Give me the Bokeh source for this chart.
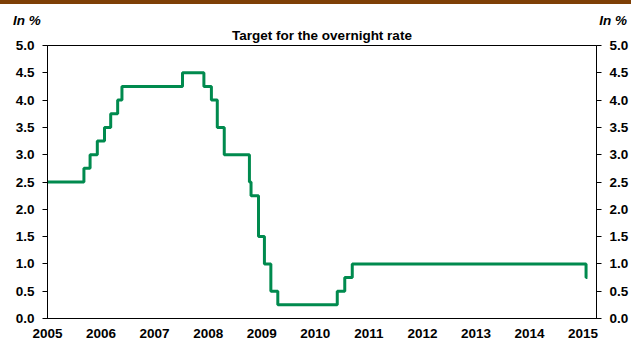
from bokeh.plotting import figure
from bokeh.models import (Range1d, FixedTicker, NumeralTickFormatter, LinearAxis,
                          Div, ColumnDataSource, Title)
from bokeh.layouts import column
from bokeh.embed import file_html
from bokeh.resources import INLINE

# Bank of Canada target for the overnight rate: decision dates (decimal years) and rate (%)
dates = [2005.00, 2005.68, 2005.795, 2005.93, 2006.064, 2006.18, 2006.31, 2006.39,
         2007.52, 2007.92, 2008.06, 2008.17, 2008.30, 2008.77, 2008.80, 2008.94,
         2009.05, 2009.17, 2009.30, 2010.41, 2010.55, 2010.69, 2015.055, 2015.08]
rates = [2.50, 2.75, 3.00, 3.25, 3.50, 3.75, 4.00, 4.25,
         4.50, 4.25, 4.00, 3.50, 3.00, 2.50, 2.25, 1.50,
         1.00, 0.50, 0.25, 0.50, 0.75, 1.00, 0.75, 0.75]

years = list(range(2005, 2016))
y_ticks = [0.0, 0.5, 1.0, 1.5, 2.0, 2.5, 3.0, 3.5, 4.0, 4.5, 5.0]

title_text = "Target for the overnight rate"
unit_text = "In %"

FONT = "Liberation Sans"
GREEN = "#008A4E"
BROWN = "#7E3F06"
HEADER_H = 25

src = ColumnDataSource(dict(x=dates, y=rates))

p = figure(width=631, height=341 - HEADER_H, output_backend="svg", toolbar_location=None,
           x_range=Range1d(2005.0, 2015.25), y_range=Range1d(0.0, 5.0),
           min_border_left=47, min_border_right=33, min_border_top=45 - HEADER_H,
           min_border_bottom=23)

p.title = Title(text=title_text, align="center", vertical_align="top", text_font=FONT,
                text_font_style="bold", text_font_size="13.5px", text_color="black",
                standoff=1, offset=0)

p.step("x", "y", source=src, mode="after", line_color=GREEN, line_width=3)

p.grid.visible = False
p.outline_line_color = "black"
p.outline_line_width = 1
p.background_fill_color = "white"
p.border_fill_color = "white"

# y axes on both sides
p.add_layout(LinearAxis(), "right")
for ax in p.yaxis:
    ax.ticker = FixedTicker(ticks=y_ticks)
    ax.formatter = NumeralTickFormatter(format="0.0")
    ax.major_tick_in = 0
    ax.major_tick_out = 5
    ax.minor_tick_line_color = None
    ax.axis_line_color = "black"
    ax.major_tick_line_color = "black"
    ax.major_label_text_font = FONT
    ax.major_label_text_font_style = "bold"
    ax.major_label_text_font_size = "13.5px"
    ax.major_label_text_color = "black"
    ax.major_label_standoff = 8

xa = p.xaxis[0]
xa.ticker = FixedTicker(ticks=years)
xa.major_label_overrides = {y: str(y) for y in years}
xa.major_tick_in = 0
xa.major_tick_out = 0
xa.minor_tick_line_color = None
xa.axis_line_color = "black"
xa.major_label_text_font = FONT
xa.major_label_text_font_style = "bold"
xa.major_label_text_font_size = "13.5px"
xa.major_label_text_color = "black"
xa.major_label_text_line_height = 0.7
xa.major_label_standoff = 10

# header: brown rule and unit labels over both axes
txt = f"font-family:'{FONT}';font-weight:bold;font-style:italic;font-size:13.5px;color:black;position:absolute;white-space:nowrap;"
header_html = (
    f'<div style="position:relative;width:631px;height:{HEADER_H}px;">'
    f'<div style="position:absolute;left:0;top:0;width:631px;height:4px;background:{BROWN};"></div>'
    f'<span style="{txt}left:13px;top:11px;">{unit_text}</span>'
    f'<span style="{txt}right:4px;top:11px;">{unit_text}</span>'
    '</div>'
)
header = Div(text=header_html, width=631, height=HEADER_H, margin=0)

layout = column(header, p, spacing=0)

open("out.html", "w").write(file_html(layout, INLINE))
